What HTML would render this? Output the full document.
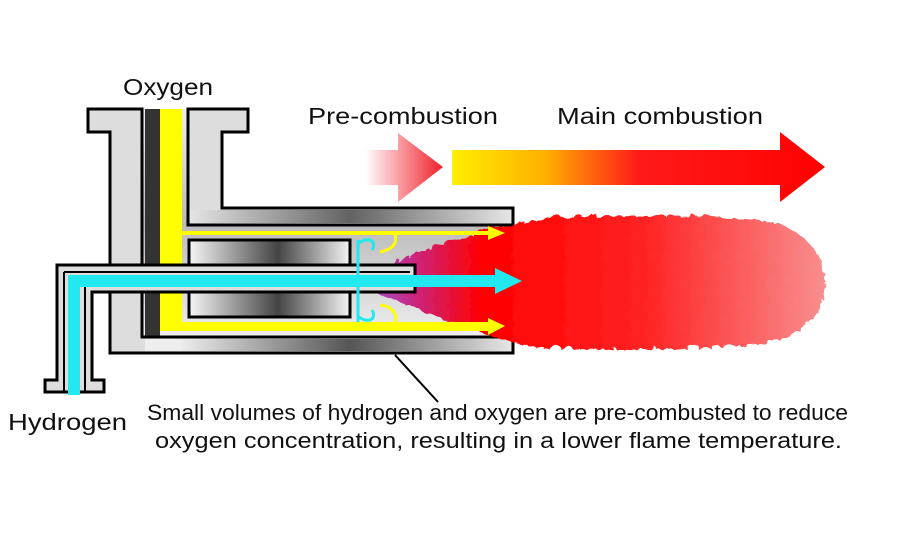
<!DOCTYPE html>
<html><head><style>
body{margin:0;background:#fff;}
svg{display:block;font-family:"Liberation Sans",Arial,sans-serif;}
</style></head><body>
<svg width="900" height="550" viewBox="0 0 900 550" xmlns="http://www.w3.org/2000/svg">
<defs>
<linearGradient id="pre" x1="0" x2="1"><stop offset="0" stop-color="#fff"/><stop offset="1" stop-color="#f0202a"/></linearGradient>
<linearGradient id="main" x1="452" x2="825" gradientUnits="userSpaceOnUse"><stop offset="0" stop-color="#ffee00"/><stop offset="0.25" stop-color="#ffb000"/><stop offset="0.5" stop-color="#ff1a1a"/><stop offset="1" stop-color="#ff0000"/></linearGradient>
<linearGradient id="tubeH" x1="180" x2="520" gradientUnits="userSpaceOnUse"><stop offset="0" stop-color="#eee"/><stop offset="0.5" stop-color="#555"/><stop offset="1" stop-color="#eee"/></linearGradient>
<linearGradient id="chan" x1="0" x2="0" y1="0" y2="1"><stop offset="0" stop-color="#eee"/><stop offset="0.5" stop-color="#bbb"/><stop offset="1" stop-color="#eee"/></linearGradient>
<linearGradient id="blk" x1="190" x2="350" gradientUnits="userSpaceOnUse"><stop offset="0" stop-color="#f4f4f4"/><stop offset="0.55" stop-color="#444"/><stop offset="1" stop-color="#f4f4f4"/></linearGradient>
<linearGradient id="flame" x1="365" x2="825" gradientUnits="userSpaceOnUse"><stop offset="0" stop-color="#a050d0"/><stop offset="0.12" stop-color="#d02070"/><stop offset="0.25" stop-color="#ff0000"/><stop offset="0.6" stop-color="#f22"/><stop offset="1" stop-color="#f89090"/></linearGradient>
<filter id="rough" x="-5%" y="-10%" width="110%" height="120%"><feTurbulence baseFrequency="0.08" numOctaves="2" seed="3"/><feDisplacementMap in="SourceGraphic" scale="8"/></filter>
</defs>

<!-- top arrows -->
<polygon points="365,150 398,150 398,133 443,167 398,202 398,185 365,185" fill="url(#pre)"/>
<polygon points="452,150 780,150 780,132 825,167 780,202 780,185 452,185" fill="url(#main)"/>

<!-- channel background -->
<path d="M142,109 L188,109 L188,225 L513,225 L513,337 L142,337 Z" fill="url(#chan)"/>
<rect x="145" y="109" width="15" height="228" fill="#333"/>

<!-- outer body pieces -->
<path d="M88,109 L142,109 L142,337 L513,337 L513,353 L110,353 L110,132 L88,132 Z" fill="#ddd" stroke="#000" stroke-width="3"/>
<rect x="145" y="339" width="366" height="12" fill="url(#tubeH)"/>
<path d="M188,109 L248,109 L248,132 L222,132 L222,208 L513,208 L513,225 L188,225 Z" fill="#ddd" stroke="#000" stroke-width="3"/>
<rect x="190" y="210" width="321" height="13" fill="url(#tubeH)" opacity="0.9"/>

<!-- inner block -->
<rect x="189" y="240" width="161" height="77" fill="url(#blk)" stroke="#000" stroke-width="3"/>

<!-- flame -->
<g filter="url(#rough)">
<path d="M367,272 C400,255 450,235 530,218 C600,212 700,212 760,218 C800,225 823,250 823,280 C823,310 800,335 760,342 C700,348 600,348 530,345 C450,325 400,300 367,288 Z" fill="url(#flame)"/>
</g>

<!-- yellow oxygen -->
<rect x="160" y="109" width="22" height="222" fill="#ffff00"/>
<rect x="160" y="322" width="330" height="9" fill="#ffff00"/>
<polygon points="488,318 505,326 488,335" fill="#ffff00"/>
<rect x="182" y="231" width="308" height="4" fill="#ffff00"/>
<polygon points="488,226 505,233 488,240" fill="#ffff00"/>
<path d="M395,235 C398,245 390,250 380,252 M395,322 C398,312 390,306 380,305" stroke="#ffff00" stroke-width="3" fill="none"/>

<!-- hydrogen tube -->
<path d="M57,265 L415,265 L415,292 L92,292 L92,380 L104,380 L104,392 L45,392 L45,380 L57,380 Z" fill="#ddd" stroke="#000" stroke-width="3"/>
<path d="M64,272 L410,272 M64,272 L64,392 M85,286 L410,286 M85,286 L85,392" stroke="#000" stroke-width="2" fill="none"/>
<rect x="68" y="275" width="12" height="120" fill="#22e8f0"/>
<rect x="68" y="275" width="430" height="12" fill="#22e8f0"/>
<polygon points="495,268 522,281 495,294" fill="#22e8f0"/>
<!-- cyan injector -->
<path d="M358,240 L358,322 M358,244 C366,236 378,240 372,250 M358,316 C366,324 378,320 372,310" stroke="#22e8f0" stroke-width="3" fill="none"/>

<!-- pointer -->
<line x1="395" y1="355" x2="438" y2="402" stroke="#000" stroke-width="2"/>

<!-- text -->
<text x="123" y="95" font-size="23" textLength="90" lengthAdjust="spacingAndGlyphs" fill="#111">Oxygen</text>
<text x="308" y="124" font-size="23" textLength="190" lengthAdjust="spacingAndGlyphs" fill="#111">Pre-combustion</text>
<text x="557" y="124" font-size="23" textLength="206" lengthAdjust="spacingAndGlyphs" fill="#111">Main combustion</text>
<text x="8" y="430" font-size="23" textLength="119" lengthAdjust="spacingAndGlyphs" fill="#111">Hydrogen</text>
<text x="147" y="420" font-size="22" textLength="701" lengthAdjust="spacingAndGlyphs" fill="#111">Small volumes of hydrogen and oxygen are pre-combusted to reduce</text>
<text x="155" y="448" font-size="22" textLength="687" lengthAdjust="spacingAndGlyphs" fill="#111">oxygen concentration, resulting in a lower flame temperature.</text>
</svg>
</body></html>
